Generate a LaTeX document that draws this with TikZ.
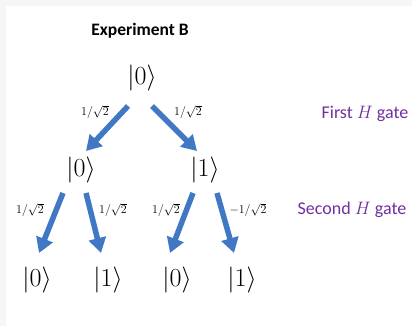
\RequirePackage{fix-cm}
\documentclass[tikz,border=0pt]{standalone}
\usepackage{fontspec}
\setmainfont{Carlito}
\usetikzlibrary{arrows.meta}
\definecolor{arrowblue}{RGB}{64,120,196}
\definecolor{gatepurple}{RGB}{112,48,160}
\definecolor{framegray}{RGB}{246,246,246}
\tikzset{
  ket/.style={inner sep=0pt, font=\fontsize{26}{30}\selectfont},
  amp/.style={inner sep=0pt, font=\fontsize{12}{14}\selectfont},
  gatelabel/.style={inner sep=0pt, text=gatepurple, font=\fontsize{18}{21}\selectfont},
  flow/.style={draw=arrowblue, line width=5.5pt, -{Triangle[width=17pt,length=15pt]}},
}
\begin{document}
\begin{tikzpicture}[x=1pt,y=-1pt]
\fill[framegray] (0,0) rectangle (412,326);
\fill[white] (6,6) rectangle (412,326);
\useasboundingbox (0,0) rectangle (412,326);

\node[inner sep=0pt, font=\fontsize{17.5}{21}\selectfont\bfseries] (title) at (140,31) {Experiment B};

\node[ket] (r) at (142,78) {$|0\rangle$};
\node[ket] (a) at (81,170) {$|0\rangle$};
\node[ket] (b) at (205,170) {$|1\rangle$};
\node[ket] (c1) at (37,280) {$|0\rangle$};
\node[ket] (c2) at (108,280) {$|1\rangle$};
\node[ket] (c3) at (177,280) {$|0\rangle$};
\node[ket] (c4) at (242,280) {$|1\rangle$};

\coordinate (r-l) at (128,106);
\coordinate (r-r) at (152,106);
\coordinate (a-in) at (86,151);
\coordinate (b-in) at (197,151);
\coordinate (a-l) at (63,193);
\coordinate (a-r) at (86,193);
\coordinate (b-l) at (193,193);
\coordinate (b-r) at (217,193);
\coordinate (c1-in) at (39,253);
\coordinate (c2-in) at (101,253);
\coordinate (c3-in) at (170,253);
\coordinate (c4-in) at (234,253);

\draw[flow] (r-l) -- (a-in);
\draw[flow] (r-r) -- (b-in);
\draw[flow] (a-l) -- (c1-in);
\draw[flow] (a-r) -- (c2-in);
\draw[flow] (b-l) -- (c3-in);
\draw[flow] (b-r) -- (c4-in);

\node[amp] (l1) at (95,112) {$1/\sqrt{2}$};
\node[amp] (l2) at (188,112) {$1/\sqrt{2}$};
\node[amp] (l3) at (30,210) {$1/\sqrt{2}$};
\node[amp] (l4) at (113,210) {$1/\sqrt{2}$};
\node[amp] (l5) at (166,210) {$1/\sqrt{2}$};
\node[amp] (l6) at (248,210) {$-1/\sqrt{2}$};

\node[gatelabel] (g1) at (365,114) {First $H$ gate};
\node[gatelabel] (g2) at (352,210) {Second $H$ gate};
\end{tikzpicture}
\end{document}
